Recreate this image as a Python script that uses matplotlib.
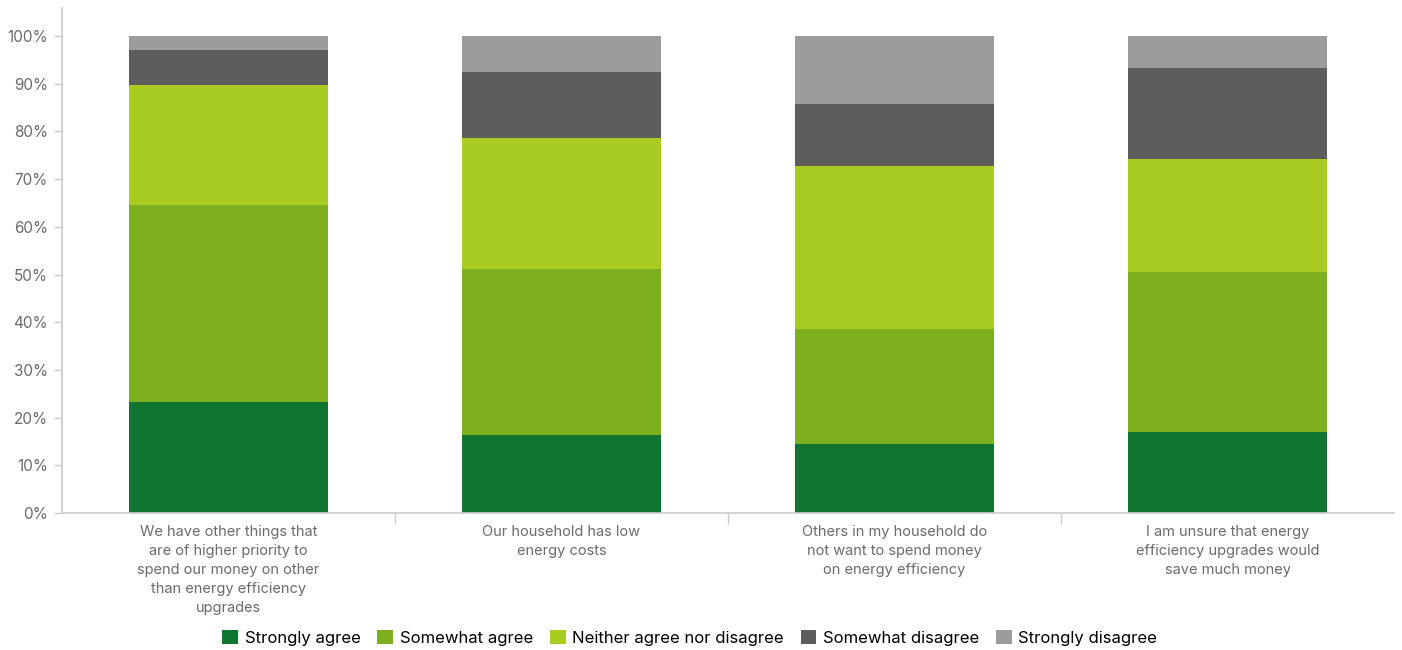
import numpy as np
import matplotlib.pyplot as plt
from matplotlib.ticker import FuncFormatter

plt.rcParams['font.family'] = ['Inter', 'DejaVu Sans']

categories = [
    "We have other things that\nare of higher priority to\nspend our money on other\nthan energy efficiency\nupgrades",
    "Our household has low\nenergy costs",
    "Others in my household do\nnot want to spend money\non energy efficiency",
    "I am unsure that energy\nefficiency upgrades would\nsave much money",
]
responses = ["Strongly agree", "Somewhat agree", "Neither agree nor disagree",
             "Somewhat disagree", "Strongly disagree"]

strongly_agree = [23.3, 16.4, 14.5, 17.0]
somewhat_agree = [41.3, 34.8, 24.1, 33.5]
neither = [25.1, 27.5, 34.2, 23.7]
somewhat_disagree = [7.4, 13.8, 13.0, 19.1]
strongly_disagree = [2.9, 7.5, 14.2, 6.7]

colors = ["#107530", "#7db01e", "#a8cc22", "#5d5d5d", "#9c9c9c"]

series = [strongly_agree, somewhat_agree, neither, somewhat_disagree, strongly_disagree]

fig = plt.figure(figsize=(14.02, 6.5), dpi=100)
ax = fig.add_axes([0.0442, 0.2108, 0.9501, 0.7769])

x = np.arange(len(categories))
bottom = np.zeros(len(categories))
for vals, col, name in zip(series, colors, responses):
    ax.bar(x, vals, bottom=bottom, width=0.6, color=col, label=name, linewidth=0)
    bottom += np.array(vals)

ax.set_xlim(-0.5, len(categories) - 0.5)
ax.set_ylim(0, 105.9)
ax.set_yticks(np.arange(0, 101, 10))
ax.yaxis.set_major_formatter(FuncFormatter(lambda v, _: f"{int(v)}%"))

# category labels on major ticks, separators on minor ticks
ax.set_xticks(x)
ax.set_xticklabels(categories, fontsize=10.5, color="#6b6b6b", linespacing=1.45, va="top")
ax.set_xticks(np.arange(0.5, len(categories) - 0.5, 1), minor=True)
ax.tick_params(axis="x", which="major", length=0, pad=9)
ax.tick_params(axis="x", which="minor", length=8, color="#cccccc", width=1)
ax.tick_params(axis="y", length=6, color="#cccccc", width=1, labelsize=11,
               labelcolor="#6b6b6b", pad=4)

for side in ["top", "right"]:
    ax.spines[side].set_visible(False)
for side in ["left", "bottom"]:
    ax.spines[side].set_color("#cccccc")
    ax.spines[side].set_linewidth(1.2)

fig.legend(loc="center", bbox_to_anchor=(0.492, 0.019), ncol=5, frameon=False,
           fontsize=12, handlelength=0.95, handleheight=0.95, handletextpad=0.4,
           columnspacing=1.0, borderaxespad=0)

fig.savefig("out.png", dpi=100)
